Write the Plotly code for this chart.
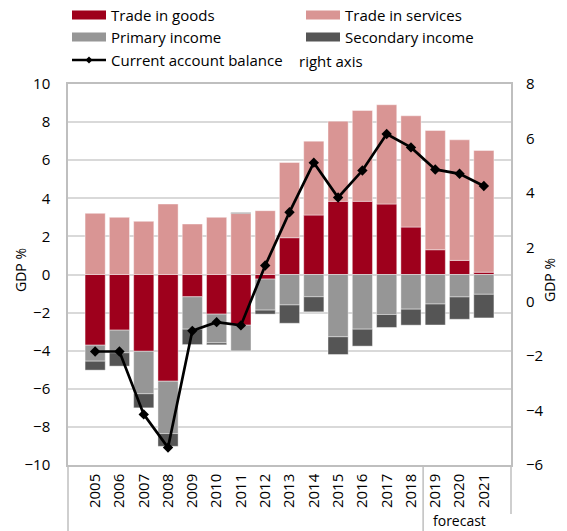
import plotly.graph_objects as go

# Current account components, % of GDP (left axis) and balance (right axis)
years = [str(y) for y in range(2005, 2022)]
trade_goods = [-3.71, -2.92, -4.03, -5.60, -1.17, -2.08, -2.66, -0.24, 1.93, 3.12,
               3.84, 3.84, 3.70, 2.49, 1.30, 0.74, 0.12]
trade_services = [3.21, 3.00, 2.79, 3.70, 2.65, 3.00, 3.20, 3.35, 3.95, 3.88,
                  4.21, 4.77, 5.21, 5.84, 6.26, 6.33, 6.39]
primary_income = [-0.84, -1.19, -2.23, -2.75, -1.70, -1.51, -1.35, -1.63, -1.60, -1.17,
                  -3.27, -2.87, -2.10, -1.82, -1.55, -1.18, -1.04]
secondary_income = [-0.47, -0.70, -0.74, -0.67, -0.81, -0.10, 0.05, -0.21, -0.96, -0.79,
                    -0.93, -0.89, -0.68, -0.84, -1.10, -1.17, -1.24]
ca_balance = [-1.83, -1.83, -4.14, -5.36, -1.07, -0.75, -0.87, 1.33, 3.29, 5.11,
              3.83, 4.82, 6.16, 5.67, 4.86, 4.70, 4.25]

series_names = ["Trade in goods", "Trade in services", "Primary income", "Secondary income"]
line_name = "Current account balance"
line_note = "right axis"
forecast_label = "forecast"
axis_title = "GDP %"

C_GOODS = "#9e001c"
C_SERV = "#d99594"
C_PRIM = "#969696"
C_SEC = "#555555"
GRID = "#d9d9d9"
FRAME = "#bfbfbf"
FONT = "Open Sans"

W, H = 567, 531
L, R, T, B = 68, 511, 84, 465  # plot area in pixels


def px(xp):
    return (xp - L) / (R - L)


def py(yp):
    return (B - yp) / (B - T)


fig = go.Figure()
for name, vals, col in zip(series_names,
                           [trade_goods, trade_services, primary_income, secondary_income],
                           [C_GOODS, C_SERV, C_PRIM, C_SEC]):
    fig.add_trace(go.Bar(x=years, y=vals, name=name, marker_color=col,
                         marker_line=dict(color="rgba(255,255,255,0.7)", width=0.6),
                         showlegend=False))

fig.add_trace(go.Scatter(x=years, y=ca_balance, name=line_name, yaxis="y2",
                         mode="lines+markers",
                         line=dict(color="black", width=2.7),
                         marker=dict(symbol="diamond", size=8, color="black"),
                         showlegend=False))

shapes = []
annotations = []

# hand-built legend: two columns, three rows
legend_rows = [
    (72, 15, C_GOODS, series_names[0]),
    (306, 15, C_SERV, series_names[1]),
    (72, 37, C_PRIM, series_names[2]),
    (306, 37, C_SEC, series_names[3]),
]
for x0, yc, col, label in legend_rows:
    shapes.append(dict(type="rect", xref="paper", yref="paper",
                       x0=px(x0), x1=px(x0 + 34), y0=py(yc - 4.5), y1=py(yc + 4.5),
                       fillcolor=col, line=dict(width=0)))
    annotations.append(dict(xref="paper", yref="paper", x=px(x0 + 37), y=py(yc),
                            xanchor="left", yanchor="middle", showarrow=False,
                            text=label, font=dict(family=FONT, size=15, color="black")))
shapes.append(dict(type="line", xref="paper", yref="paper",
                   x0=px(72), x1=px(106), y0=py(60), y1=py(60),
                   line=dict(color="black", width=2.5)))
shapes.append(dict(type="path", xref="paper", yref="paper",
                   path="M {a},{m} L {b},{t} L {c},{m} L {b},{u} Z".format(
                       a=px(85.5), b=px(89), c=px(92.5), m=py(60), t=py(56.5), u=py(63.5)),
                   fillcolor="black", line=dict(width=0)))
annotations.append(dict(xref="paper", yref="paper", x=px(109), y=py(60),
                        xanchor="left", yanchor="middle", showarrow=False,
                        text=line_name, font=dict(family=FONT, size=15, color="black")))
annotations.append(dict(xref="paper", yref="paper", x=px(297), y=py(61),
                        xanchor="left", yanchor="middle", showarrow=False,
                        text=line_note, font=dict(family=FONT, size=15, color="black")))

# axis titles
annotations.append(dict(xref="paper", yref="paper", x=px(20), y=py(270),
                        xanchor="center", yanchor="middle", showarrow=False, textangle=-90,
                        text=axis_title, font=dict(family=FONT, size=14, color="black")))
annotations.append(dict(xref="paper", yref="paper", x=px(549), y=py(280),
                        xanchor="center", yanchor="middle", showarrow=False, textangle=-90,
                        text=axis_title, font=dict(family=FONT, size=14, color="black")))

# category-axis box and forecast divider below the plot
shapes.append(dict(type="line", xref="paper", yref="paper", x0=0, x1=0,
                   y0=0, y1=py(H + 2), line=dict(color=FRAME, width=1.5)))
shapes.append(dict(type="line", xref="paper", yref="paper", x0=1, x1=1,
                   y0=0, y1=py(514), line=dict(color=FRAME, width=1.5)))
shapes.append(dict(type="line", xref="x", yref="paper", x0=13.5, x1=13.5,
                   y0=0, y1=py(H + 2), line=dict(color=FRAME, width=1.5)))
annotations.append(dict(xref="x", yref="paper", x=15, y=py(H), yshift=-1,
                        xanchor="center", yanchor="bottom", showarrow=False,
                        text=forecast_label, font=dict(family=FONT, size=14, color="black")))

fig.update_layout(
    width=W, height=H,
    margin=dict(l=L, r=W - R, t=T, b=H - B, pad=0),
    paper_bgcolor="white", plot_bgcolor="white",
    barmode="relative", bargap=0.17,
    font=dict(family=FONT, size=14, color="black"),
    shapes=shapes, annotations=annotations,
    xaxis=dict(type="category", tickangle=-90, showgrid=False,
               showline=True, mirror=True, linecolor=FRAME, linewidth=1.5,
               ticks="", tickfont=dict(size=15), ticklabelstandoff=1),
    yaxis=dict(range=[-10, 10], dtick=2, showgrid=True, gridcolor=GRID, gridwidth=1.5,
               zeroline=False, showline=True, mirror=True, linecolor=FRAME, linewidth=1.5,
               ticks="", ticklabelstandoff=13, tickfont=dict(size=15)),
    yaxis2=dict(range=[-6, 8], dtick=2, overlaying="y", side="right", showgrid=False,
                zeroline=False, showline=False, ticks="", ticklabelstandoff=14,
                tickfont=dict(size=15)),
)

fig.write_html("out.html")
